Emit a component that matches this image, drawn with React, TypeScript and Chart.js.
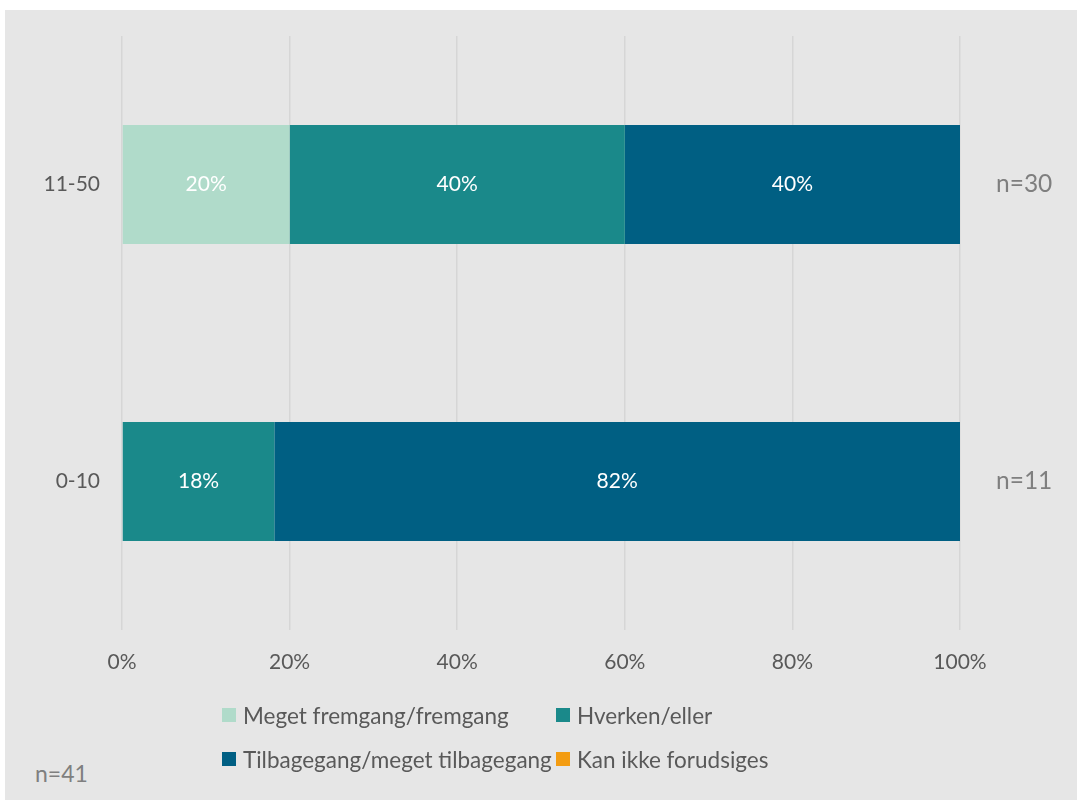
import React, { useEffect, useRef } from "react";
import { Chart, registerables } from "chart.js";

Chart.register(...registerables);

const categories = ["11-50", "0-10"];
const nLabels = ["n=30", "n=11"];
const seriesNames = [
  "Meget fremgang/fremgang",
  "Hverken/eller",
  "Tilbagegang/meget tilbagegang",
  "Kan ikke forudsiges",
];
const seriesColors = ["#b0dbca", "#1a898a", "#005f83", "#f39c12"];
const megetFremgang = [20, 0];
const hverkenEller = [40, 18.18];
const tilbagegang = [40, 81.82];
const kanIkke = [0, 0];
const xTicks = [0, 20, 40, 60, 80, 100];
const totalLabel = "n=41";

const FONT = "Lato, 'Open Sans', sans-serif";
const TEXT = "#595959";
const LIGHT = "#7f7f7f";

const dataLabelPlugin = {
  id: "dataLabels",
  afterDatasetsDraw(chart: any) {
    const ctx = chart.ctx;
    ctx.save();
    ctx.fillStyle = "#ffffff";
    ctx.font = `21px ${FONT}`;
    ctx.textAlign = "center";
    ctx.textBaseline = "middle";
    chart.data.datasets.forEach((ds: any, i: number) => {
      const meta = chart.getDatasetMeta(i);
      meta.data.forEach((bar: any, j: number) => {
        const v = ds.data[j];
        if (!v) return;
        const cx = (bar.x + bar.base) / 2;
        ctx.fillText(Math.round(v) + "%", cx, bar.y);
      });
    });
    ctx.restore();
  },
};

export default function App() {
  const ref = useRef<HTMLCanvasElement>(null);
  useEffect(() => {
    if (!ref.current) return;
    const series = [megetFremgang, hverkenEller, tilbagegang, kanIkke];
    const chart = new Chart(ref.current, {
      type: "bar",
      data: {
        labels: categories,
        datasets: series.map((d, i) => ({
          label: seriesNames[i],
          data: d,
          backgroundColor: seriesColors[i],
          borderWidth: 0,
          barPercentage: 0.4,
          categoryPercentage: 1,
        })),
      },
      options: {
        indexAxis: "y",
        animation: false,
        responsive: false,
        maintainAspectRatio: false,
        layout: { padding: { top: 26, bottom: 10, left: 0, right: 0 } },
        plugins: {
          legend: { display: false },
          tooltip: { enabled: false },
        },
        scales: {
          x: {
            stacked: true,
            min: 0,
            max: 100,
            afterBuildTicks: (s: any) => {
              s.ticks = xTicks.map((v) => ({ value: v }));
            },
            afterFit: (s: any) => {
              s.height = 60;
            },
            grid: { color: "#d6d6d6", lineWidth: 1.5, drawTicks: false },
            border: { display: false },
            ticks: {
              padding: 20,
              color: TEXT,
              font: { family: FONT, size: 21 },
              callback: (v: any) => v + "%",
            },
          },
          y: {
            stacked: true,
            afterFit: (s: any) => {
              s.width = 117;
            },
            grid: {
              display: true,
              drawOnChartArea: false,
              drawTicks: true,
              tickLength: 22,
              tickColor: "rgba(0,0,0,0)",
              color: "rgba(0,0,0,0)",
            },
            border: { display: false },
            ticks: {
              padding: 0,
              color: TEXT,
              font: { family: FONT, size: 21 },
            },
          },
          y2: {
            type: "category",
            position: "right",
            labels: nLabels,
            offset: true,
            afterFit: (s: any) => {
              s.width = 117;
            },
            grid: {
              display: true,
              drawOnChartArea: false,
              drawTicks: true,
              tickLength: 36,
              tickColor: "rgba(0,0,0,0)",
              color: "rgba(0,0,0,0)",
            },
            border: { display: false },
            ticks: {
              padding: 0,
              color: LIGHT,
              font: { family: FONT, size: 24.5 },
            },
          },
        },
      },
      plugins: [dataLabelPlugin],
    } as any);
    return () => chart.destroy();
  }, []);

  const legendItem = (i: number) => (
    <div key={i} style={{ display: "flex", alignItems: "center", height: 44 }}>
      <span
        style={{
          display: "inline-block",
          width: 14,
          height: 14,
          background: seriesColors[i],
          marginRight: 7,
        }}
      />
      <span>{seriesNames[i]}</span>
    </div>
  );

  return (
    <div
      style={{
        position: "absolute",
        left: 5,
        top: 10,
        width: 1072,
        height: 790,
        background: "#e6e6e6",
        fontFamily: FONT,
      }}
    >
      <canvas
        ref={ref}
        width={1072}
        height={690}
        style={{ position: "absolute", left: 0, top: 0, width: 1072, height: 690 }}
      />
      <div
        style={{
          position: "absolute",
          left: 217,
          top: 683,
          display: "grid",
          gridTemplateColumns: "334px auto",
          color: TEXT,
          fontSize: 22.5,
        }}
      >
        {legendItem(0)}
        {legendItem(1)}
        {legendItem(2)}
        {legendItem(3)}
      </div>
      <div
        style={{
          position: "absolute",
          left: 30,
          top: 749,
          color: LIGHT,
          fontSize: 23,
          lineHeight: "28px",
        }}
      >
        {totalLabel}
      </div>
    </div>
  );
}
